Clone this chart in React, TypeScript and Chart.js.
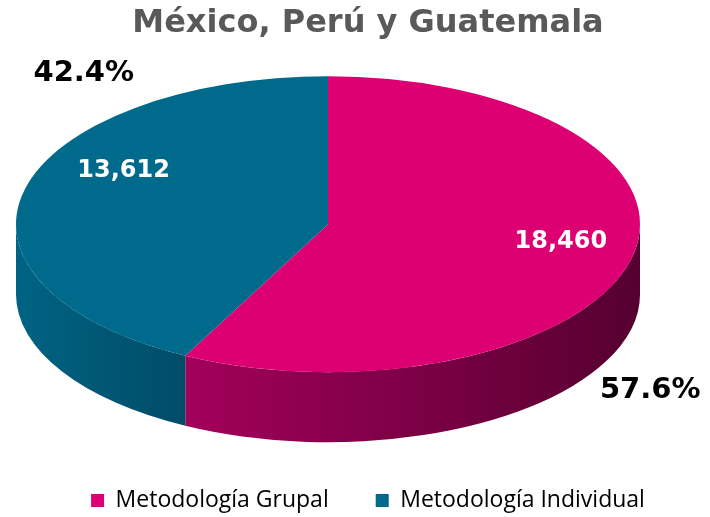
import React, { useEffect, useRef } from 'react';
import { Chart, registerables } from 'chart.js';

Chart.register(...registerables);

const titleText = 'México, Perú y Guatemala';
const categories = ['Metodología Grupal', 'Metodología Individual'];
const values = [18460, 13612];
const topColors = ['#dc0073', '#006a8c'];
const sideLeftColors = ['#a3005b', '#006383'];
const sideRightColors = ['#550030', '#004c67'];

// label placement tweaks (style only)
const valueLabelFactor = 0.72;
const valueLabelOffsets = [[14.5, -7], [14, -28]];
const pctLabelOffsets = [[19, 131], [59, -116]];

const TAU = Math.PI * 2;

function frontSegments(s: number, e: number): [number, number][] {
  const out: [number, number][] = [];
  for (let k = -2; k <= 2; k++) {
    const a = k * TAU;
    const b = a + Math.PI;
    const lo = Math.max(s, a);
    const hi = Math.min(e, b);
    if (hi - lo > 1e-6) out.push([lo, hi]);
  }
  return out;
}

function geom(chart: any, opts: any) {
  const meta = chart.getDatasetMeta(0);
  const a0: any = meta.data[0];
  const ox = a0.x;
  const oy = a0.y;
  const r = a0.outerRadius;
  return {
    ox, oy, r,
    Cx: ox + opts.offsetX,
    Cy: oy + opts.offsetY,
    rx: opts.rx,
    ry: opts.ry,
    depth: opts.depth,
  };
}

const pie3d = {
  id: 'pie3d',
  beforeDatasetsDraw(chart: any, _args: any, opts: any) {
    const meta = chart.getDatasetMeta(0);
    if (!meta.data.length) return;
    const g = geom(chart, opts);
    const ctx = chart.ctx;
    meta.data.forEach((arc: any, i: number) => {
      const segs = frontSegments(arc.startAngle, arc.endAngle);
      segs.forEach(([t1, t2]) => {
        let minX = Infinity;
        let maxX = -Infinity;
        for (let j = 0; j <= 40; j++) {
          const t = t1 + ((t2 - t1) * j) / 40;
          const x = g.Cx + g.rx * Math.cos(t);
          minX = Math.min(minX, x);
          maxX = Math.max(maxX, x);
        }
        const grad = ctx.createLinearGradient(minX, 0, maxX, 0);
        grad.addColorStop(0, sideLeftColors[i]);
        grad.addColorStop(1, sideRightColors[i]);
        ctx.save();
        ctx.beginPath();
        ctx.ellipse(g.Cx, g.Cy, g.rx, g.ry, 0, t1, t2, false);
        ctx.ellipse(g.Cx, g.Cy + g.depth, g.rx, g.ry, 0, t2, t1, true);
        ctx.closePath();
        ctx.fillStyle = grad;
        ctx.fill();
        ctx.restore();
      });
    });
    ctx.save();
    ctx.translate(g.Cx, g.Cy);
    ctx.scale(g.rx / g.r, g.ry / g.r);
    ctx.translate(-g.ox, -g.oy);
  },
  afterDatasetsDraw(chart: any, _args: any, opts: any) {
    const meta = chart.getDatasetMeta(0);
    if (!meta.data.length) return;
    const ctx = chart.ctx;
    ctx.restore();
    const g = geom(chart, opts);
    const total = values.reduce((a, b) => a + b, 0);
    meta.data.forEach((arc: any, i: number) => {
      const mid = (arc.startAngle + arc.endAngle) / 2;
      const c = Math.cos(mid);
      const s = Math.sin(mid);
      ctx.save();
      ctx.textAlign = 'center';
      ctx.textBaseline = 'middle';
      ctx.fillStyle = '#ffffff';
      ctx.font = 'bold 24px "DejaVu Sans"';
      ctx.fillText(
        values[i].toLocaleString('en-US'),
        g.Cx + valueLabelFactor * g.rx * c + valueLabelOffsets[i][0],
        g.Cy + valueLabelFactor * g.ry * s + valueLabelOffsets[i][1]
      );
      ctx.fillStyle = '#000000';
      ctx.font = 'bold 29px "DejaVu Sans"';
      const pct = ((values[i] / total) * 100).toFixed(1) + '%';
      ctx.fillText(
        pct,
        g.Cx + g.rx * c + pctLabelOffsets[i][0],
        g.Cy + g.ry * s + pctLabelOffsets[i][1]
      );
      ctx.restore();
    });
  },
};

export default function App() {
  const ref = useRef<HTMLCanvasElement | null>(null);
  useEffect(() => {
    document.body.style.margin = '0';
    const canvas = ref.current;
    if (!canvas) return;
    const chart = new Chart(canvas, {
      type: 'pie',
      data: {
        labels: categories,
        datasets: [
          {
            data: values,
            backgroundColor: topColors,
            borderWidth: 0,
            clip: false,
          } as any,
        ],
      },
      plugins: [pie3d as any],
      options: {
        animation: false,
        responsive: false,
        maintainAspectRatio: false,
        events: [],
        layout: { padding: { left: 26, right: 0, top: 0, bottom: -5 } },
        plugins: {
          title: {
            display: true,
            text: titleText,
            color: '#595959',
            font: { family: '"DejaVu Sans"', size: 32, weight: 'bold' },
            padding: { top: 4, bottom: 10 },
          },
          legend: {
            position: 'bottom',
            labels: {
              boxWidth: 13,
              boxHeight: 13,
              padding: 47,
              color: '#000000',
              font: { family: '"Open Sans"', size: 23 },
            },
          },
          tooltip: { enabled: false },
          pie3d: { offsetX: -40, offsetY: -23, rx: 312, ry: 148, depth: 70 },
        } as any,
      },
    });
    return () => chart.destroy();
  }, []);
  return (
    <div style={{ width: 710, height: 517 }}>
      <canvas ref={ref} width={710} height={517} style={{ display: 'block' }} />
    </div>
  );
}
